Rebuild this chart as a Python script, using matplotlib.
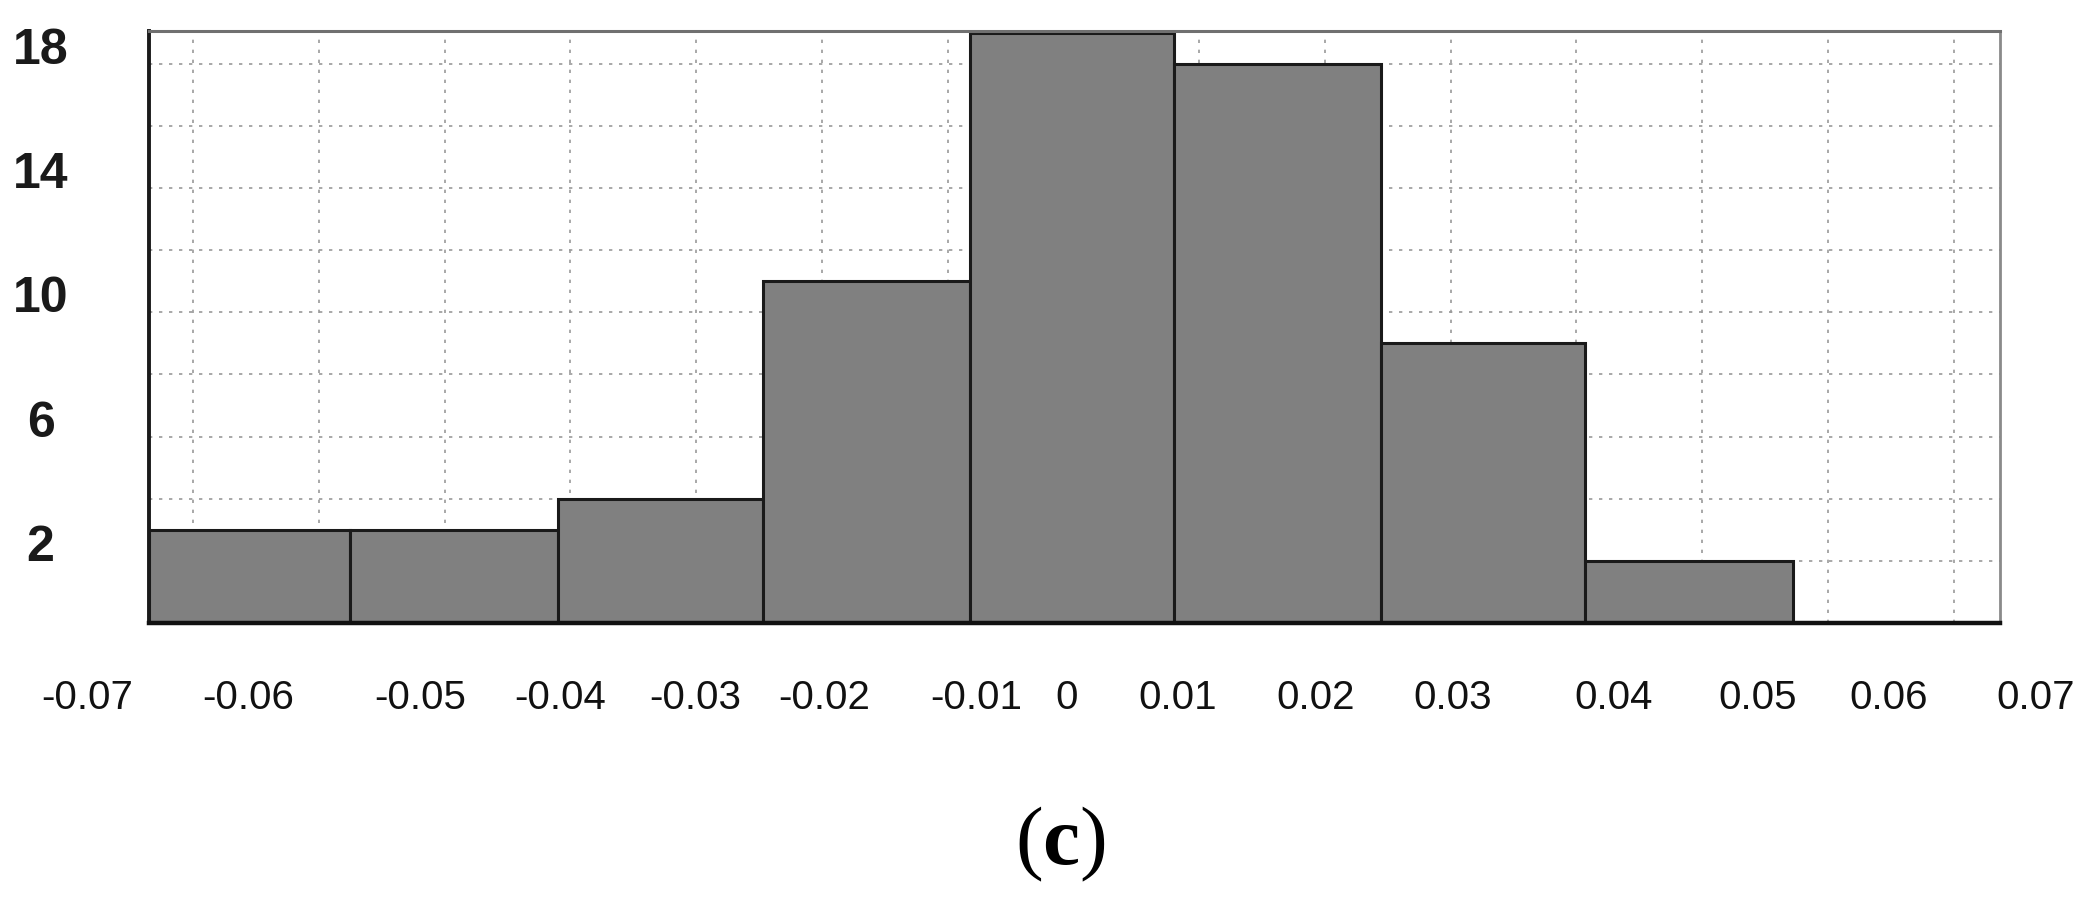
import numpy as np
import matplotlib.pyplot as plt

plt.rcParams['font.family'] = ['Liberation Sans', 'DejaVu Sans']
plt.rcParams['mathtext.fontset'] = 'custom'
plt.rcParams['mathtext.bf'] = 'Liberation Serif:bold'

# 直方图数据
bin_edges = [-0.0735, -0.0575, -0.0410, -0.0247, -0.0082, 0.0080, 0.0245, 0.0407, 0.0572, 0.0737]
counts = [3, 3, 4, 11, 19, 18, 9, 2, 0]

# 坐标轴标签
ytick_vals = [2, 4, 6, 8, 10, 12, 14, 16, 18]
ytick_labels = ['2', '', '6', '', '10', '', '14', '', '18']
xgrid_vals = np.round(np.arange(-0.07, 0.0701, 0.01), 2)
xlab_text = ['-0.07', '-0.06', '-0.05', '-0.04', '-0.03', '-0.02', '-0.01', '0',
             '0.01', '0.02', '0.03', '0.04', '0.05', '0.06', '0.07']
# 原图中标签位置不规则
xlab_pos = [-0.0784, -0.0656, -0.0519, -0.0408, -0.0301, -0.0198, -0.0077, -0.0005,
            0.0083, 0.0193, 0.0302, 0.0430, 0.0544, 0.0648, 0.0765]

fig = plt.figure(figsize=(20.9, 8.99), dpi=100)
ax = fig.add_axes([0.0713, 0.3070, 0.8857, 0.6585])

edges = np.array(bin_edges)
ax.bar(edges[:-1], counts, width=np.diff(edges), align='edge',
       color='#808080', edgecolor='#1a1a1a', linewidth=2.2, zorder=3)

ax.set_xlim(bin_edges[0], bin_edges[-1])
ax.set_ylim(0, 19.05)

# 网格
ax.set_xticks(xgrid_vals)
ax.set_xticklabels([])
ax.set_yticks(ytick_vals)
ax.set_yticklabels(ytick_labels)
ax.grid(True, color='#9a9a9a', linestyle=(0, (2, 4)), linewidth=1.2, zorder=0)
ax.tick_params(axis='both', length=0)
ax.tick_params(axis='y', pad=78, labelsize=36, labelcolor='#1a1a1a')
for lab in ax.get_yticklabels():
    lab.set_horizontalalignment('center')
    lab.set_verticalalignment('baseline')
    lab.set_fontweight('bold')

# x 轴标签
for x, t in zip(xlab_pos, xlab_text):
    ax.text(x, -0.127, t, transform=ax.get_xaxis_transform(), ha='center', va='center',
            fontsize=29, color='#111111', clip_on=False)

# 边框
ax.spines['left'].set_color('#1a1a1a')
ax.spines['left'].set_linewidth(2.8)
ax.spines['bottom'].set_color('#111111')
ax.spines['bottom'].set_linewidth(3.2)
ax.spines['top'].set_color('#707070')
ax.spines['top'].set_linewidth(2.2)
ax.spines['right'].set_color('#8a8a8a')
ax.spines['right'].set_linewidth(2.0)
for s in ax.spines.values():
    s.set_zorder(4)

fig.text(1060 / 2090, 1 - 844 / 899, r'($\mathbf{c}$)', ha='center', va='center',
         fontsize=60, family=['Liberation Serif', 'DejaVu Serif'])

plt.savefig('out.png', dpi=100)
